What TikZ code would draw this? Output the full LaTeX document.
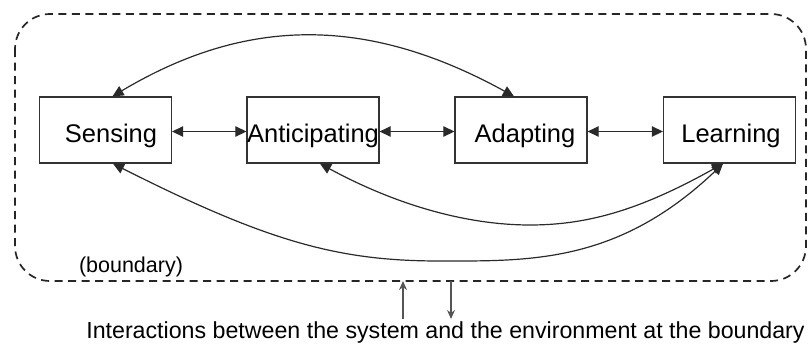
\documentclass[tikz,border=0pt]{standalone}
\usepackage{fontspec}
\setmainfont{Liberation Sans}
\usetikzlibrary{arrows.meta}
\definecolor{boxline}{HTML}{333333}
\definecolor{curveline}{HTML}{2A2A2A}
\definecolor{envgray}{HTML}{555555}
\begin{document}
\begin{tikzpicture}[x=1pt,y=-1pt,
  stagebox/.style={draw=boxline, line width=1.3pt, rectangle, minimum width=132pt, minimum height=66pt, inner sep=0pt,
    font=\fontsize{25.5}{30}\selectfont, text height=24pt, text depth=0pt},
  link/.style={draw=curveline, line width=1.2pt, {Triangle[length=11pt,width=10.5pt]}-{Triangle[length=11pt,width=10.5pt]}},
  envarrow/.style={draw=envgray, line width=1.3pt, -{Stealth[length=9pt,width=8pt]}},
  boundarybox/.style={draw=black!85, line width=1.7pt, dash pattern=on 8pt off 5.5pt, rounded corners=35pt}
]
\useasboundingbox (0,0) rectangle (808,343);
\draw[boundarybox] (15,14) rectangle (806,281);

\node[stagebox] (S) at (105.5,130) {\hspace{11pt}Sensing};
\node[stagebox] (A) at (313,130) {Anticipating};
\node[stagebox] (D) at (521,130) {\hspace{8pt}Adapting};
\node[stagebox] (L) at (729.5,130) {\hspace{3pt}Learning};

\coordinate (outerlow) at (440,261);
\coordinate (innerlow) at (530,225);

\draw[link] ([yshift=-1.5pt]S.east) -- ([yshift=-1.5pt]A.west);
\draw[link] ([yshift=-1.5pt]A.east) -- ([yshift=-1.5pt]D.west);
\draw[link] ([yshift=-1.5pt]D.east) -- ([yshift=-1.5pt]L.west);

\draw[link] ([xshift=7pt]S.north) .. controls (247,16) and (368,16) .. ([xshift=-7pt]D.north);
\draw[link] ([xshift=7.5pt]S.south) .. controls (270,243) and (340,261) .. (outerlow)
  .. controls (530,261) and (618,263.6) .. ([xshift=-6.5pt]L.south);
\draw[link] ([xshift=7pt]A.south) .. controls (400,207) and (470,225) .. (innerlow)
  .. controls (590,225) and (643,208.4) .. ([xshift=-6.5pt]L.south);

\node[anchor=base, font=\fontsize{21.5}{26}\selectfont, inner sep=0pt] (bnd) at (131,272) {(boundary)};

\coordinate (upS) at (403,319);
\coordinate (upE) at (403,281);
\coordinate (dnS) at (451,281);
\coordinate (dnE) at (451,319);
\draw[envarrow] (upS) -- (upE);
\draw[envarrow] (dnS) -- (dnE);

\node[anchor=base, font=\fontsize{23.2}{28}\selectfont, inner sep=0pt] (inter) at (445.5,338) {Interactions between the system and the environment at the boundary};
\end{tikzpicture}
\end{document}
